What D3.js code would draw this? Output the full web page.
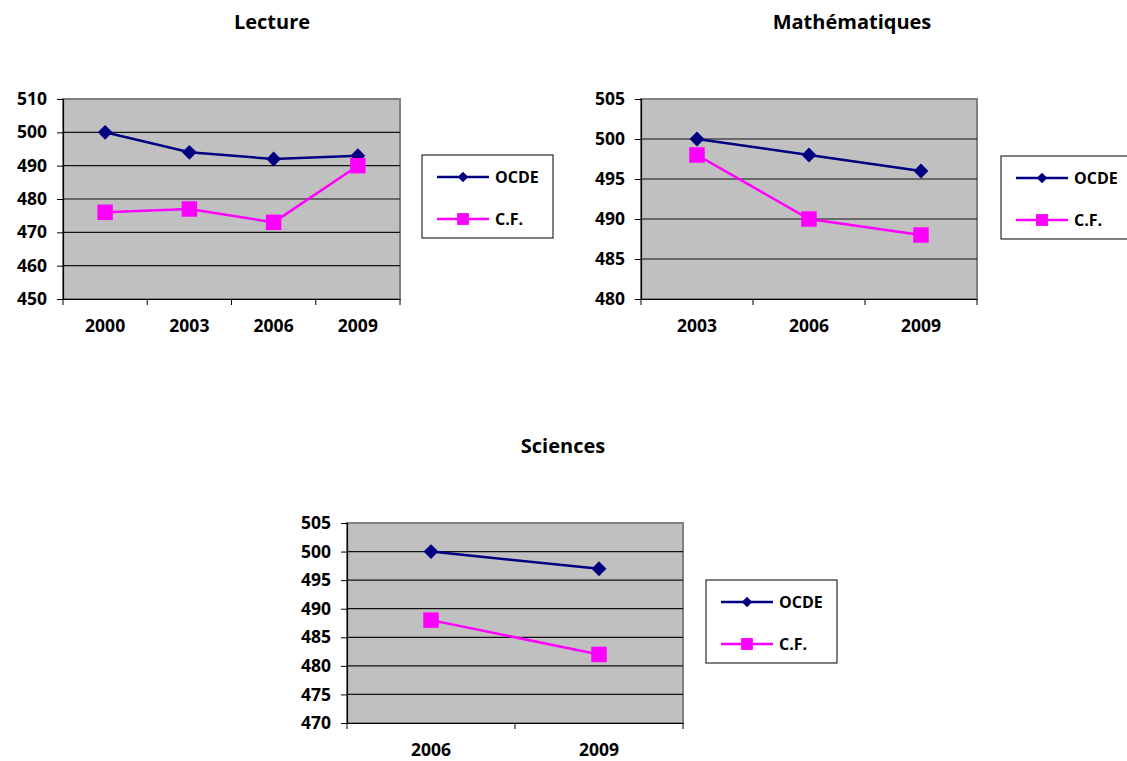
<!DOCTYPE html>
<html><head><meta charset="utf-8">
<script src="https://cdn.jsdelivr.net/npm/d3@7"></script>
<style>
body{margin:0;background:#fff;}
text{font-family:"Open Sans",sans-serif;font-weight:bold;fill:#000;}
</style></head>
<body><svg id="c" width="1127" height="761"></svg>
<script>
// ---- data ----
const seriesNames = ["OCDE", "C.F."];
const lectureYears = ["2000", "2003", "2006", "2009"];
const lectureOCDE = [500, 494, 492, 493];
const lectureCF = [476, 477, 473, 490];
const lectureTicks = [450, 460, 470, 480, 490, 500, 510];
const mathYears = ["2003", "2006", "2009"];
const mathOCDE = [500, 498, 496];
const mathCF = [498, 490, 488];
const mathTicks = [480, 485, 490, 495, 500, 505];
const sciYears = ["2006", "2009"];
const sciOCDE = [500, 497];
const sciCF = [488, 482];
const sciTicks = [470, 475, 480, 485, 490, 495, 500, 505];

const colors = ["#000080", "#FF00FF"];
const svg = d3.select("#c");
const FONT = "'Open Sans',sans-serif";

function drawChart(o) {
  const g = svg.append("g");
  const x = d3.scaleBand().domain(o.years).range([o.left, o.right]);
  const y = d3.scaleLinear().domain(d3.extent(o.ticks)).range([o.bottom, o.top]);
  // title
  g.append("text").attr("x", o.titleX).attr("y", o.titleY).attr("text-anchor", "middle")
    .style("font-size", "20px").text(o.title);
  // background
  g.append("rect").attr("x", o.left).attr("y", o.top).attr("width", o.right - o.left)
    .attr("height", o.bottom - o.top).attr("fill", "#C0C0C0").attr("stroke", "#808080").attr("stroke-width", 2);
  // grid
  g.selectAll(".grid").data(o.ticks.slice(1, -1)).enter().append("line")
    .attr("x1", o.left).attr("x2", o.right).attr("y1", d => y(d)).attr("y2", d => y(d))
    .attr("stroke", "#111").attr("stroke-width", 1.2);
  // y axis
  const ya = g.append("g").attr("transform", `translate(${o.left},0)`)
    .call(d3.axisLeft(y).tickValues(o.ticks).tickSize(6).tickPadding(10).tickFormat(d3.format("d")));
  ya.select(".domain").attr("stroke", "#000").attr("stroke-width", 1.2);
  ya.selectAll(".tick line").attr("stroke", "#000");
  ya.selectAll("text").style("font-size", "17.5px").style("font-family", FONT).style("font-weight", "bold");
  // x axis
  const xa = g.append("g").attr("transform", `translate(0,${o.bottom})`)
    .call(d3.axisBottom(x).tickSize(0).tickPadding(21));
  xa.select(".domain").attr("stroke", "#000").attr("stroke-width", 1.2);
  xa.selectAll("text").style("font-size", "17.5px").style("font-family", FONT).style("font-weight", "bold");
  const bounds = o.years.map(d => x(d)).concat([o.right]);
  g.selectAll(".xt").data(bounds).enter().append("line")
    .attr("x1", d => d).attr("x2", d => d).attr("y1", o.bottom).attr("y2", o.bottom + 6)
    .attr("stroke", "#000");
  // series
  const line = d3.line().x((d, i) => x(o.years[i]) + x.bandwidth() / 2).y(d => y(d));
  [o.s1, o.s2].forEach((s, k) => {
    g.append("path").attr("d", line(s)).attr("fill", "none").attr("stroke", colors[k]).attr("stroke-width", 2.5);
  });
  const diamond = d3.symbol().type(d3.symbolSquare).size(110)();
  const square = d3.symbol().type(d3.symbolSquare).size(240)();
  g.selectAll(".m1").data(o.s1).enter().append("path").attr("d", diamond).attr("fill", colors[0])
    .attr("transform", (d, i) => `translate(${x(o.years[i]) + x.bandwidth() / 2},${y(d)}) rotate(45)`);
  g.selectAll(".m2").data(o.s2).enter().append("path").attr("d", square).attr("fill", colors[1])
    .attr("transform", (d, i) => `translate(${x(o.years[i]) + x.bandwidth() / 2},${y(d)})`);
  // legend
  const lg = g.append("g").attr("transform", `translate(${o.legX},${o.legY})`);
  lg.append("rect").attr("x", 0).attr("y", 0).attr("width", 131).attr("height", 83)
    .attr("fill", "#fff").attr("stroke", "#000").attr("stroke-width", 1);
  const diamondL = d3.symbol().type(d3.symbolSquare).size(55)();
  const squareL = d3.symbol().type(d3.symbolSquare).size(140)();
  seriesNames.forEach((n, k) => {
    const yy = 22 + k * 42;
    lg.append("line").attr("x1", 15).attr("x2", 67).attr("y1", yy).attr("y2", yy)
      .attr("stroke", colors[k]).attr("stroke-width", 2.5);
    lg.append("path").attr("d", k === 0 ? diamondL : squareL).attr("fill", colors[k])
      .attr("transform", `translate(41,${yy})` + (k === 0 ? " rotate(45)" : ""));
    lg.append("text").attr("x", 73).attr("y", yy).attr("dy", "0.35em").style("font-size", "16px").text(n);
  });
}

drawChart({title: "Lecture", titleX: 272, titleY: 29, years: lectureYears, ticks: lectureTicks,
  s1: lectureOCDE, s2: lectureCF, left: 63, right: 400, top: 99, bottom: 299, legX: 422, legY: 155});
drawChart({title: "Mathématiques", titleX: 852, titleY: 29, years: mathYears, ticks: mathTicks,
  s1: mathOCDE, s2: mathCF, left: 641, right: 977, top: 99, bottom: 299, legX: 1001, legY: 156});
drawChart({title: "Sciences", titleX: 563, titleY: 453, years: sciYears, ticks: sciTicks,
  s1: sciOCDE, s2: sciCF, left: 347, right: 683, top: 523, bottom: 723, legX: 706, legY: 580});
</script></body></html>
